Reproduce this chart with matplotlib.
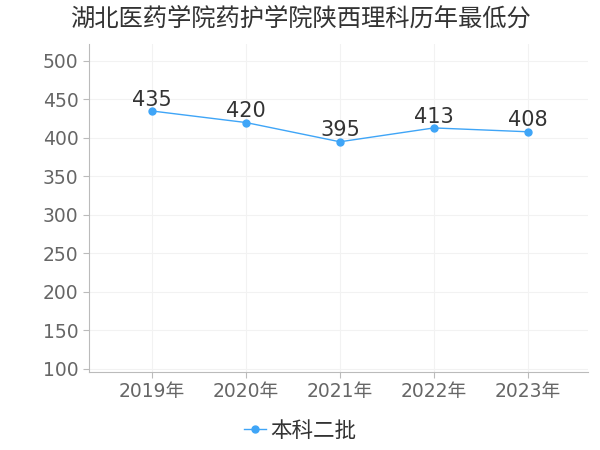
import matplotlib
matplotlib.use("Agg")
import matplotlib.pyplot as plt

plt.rcParams['font.family'] = ['DejaVu Sans', 'Noto Sans CJK SC']

years = ["2019年", "2020年", "2021年", "2022年", "2023年"]
scores = [435, 420, 395, 413, 408]
series_name = "本科二批"
title = "湖北医药学院药护学院陕西理科历年最低分"
yticks = [100, 150, 200, 250, 300, 350, 400, 450, 500]

fig = plt.figure(figsize=(6, 4.5), dpi=100)
ax = fig.add_axes([89/600, 1-372/450, (588-89)/600, (372-44)/450])

x = list(range(len(years)))
color = "#3fa5f7"
ax.plot(x, scores, color=color, lw=1, marker="o", ms=5, label=series_name)
for xi, v in zip(x, scores):
    ax.annotate(str(v), (xi, v), xytext=(0, 1), textcoords="offset points",
                ha="center", va="bottom", fontsize=15, color="#333333")

ax.set_xlim(-0.67, 4.64)
ax.set_ylim(96, 522)
ax.set_yticks(yticks)
ax.set_xticks(x)
ax.set_xticklabels(years)
ax.tick_params(axis="both", labelsize=13.5, colors="#666666", length=4, color="#bbbbbb")
ax.grid(True, color="#f2f2f2", lw=0.8)
for s in ["top", "right"]:
    ax.spines[s].set_visible(False)
for s in ["left", "bottom"]:
    ax.spines[s].set_color("#bbbbbb")

fig.text(0.5, 1-19/450, title, ha="center", va="center", fontsize=17.5,
         color="#333333", family=['Noto Sans CJK SC', 'DejaVu Sans'])
fig.legend(loc="center", bbox_to_anchor=(0.5, 1-431/450), frameon=False,
           prop={'family': ['Noto Sans CJK SC', 'DejaVu Sans'], 'size': 15.5},
           handlelength=1.0, handletextpad=0.2, labelcolor="#333333")

fig.savefig("out.png")
